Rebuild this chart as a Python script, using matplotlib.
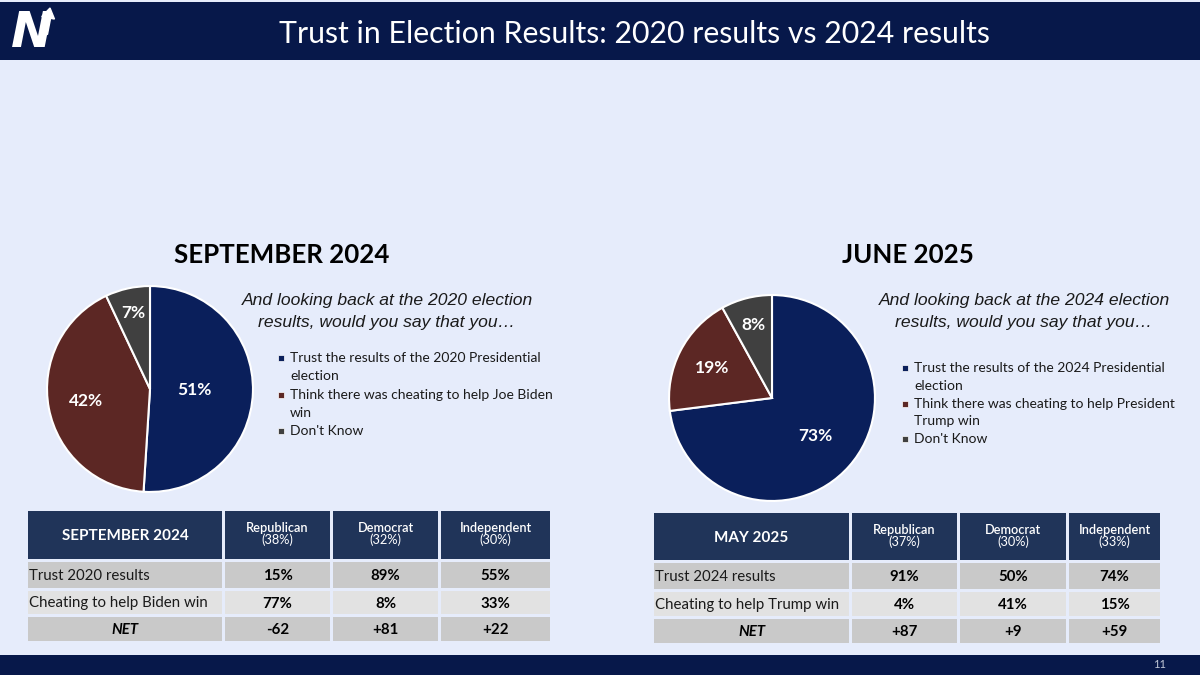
import matplotlib
matplotlib.use("Agg")
import numpy as np
import matplotlib.pyplot as plt
from matplotlib.patches import Rectangle, FancyArrow

# ---------------- data ----------------
title = "Trust in Election Results: 2020 results vs 2024 results"
page_no = "11"

left_title = "SEPTEMBER 2024"
left_question = ["And looking back at the 2020 election", "results, would you say that you\u2026"]
left_legend = ["Trust the results of the 2020 Presidential\nelection",
               "Think there was cheating to help Joe Biden\nwin",
               "Don't Know"]
left_values = [51, 42, 7]

right_title = "JUNE 2025"
right_question = ["And looking back at the 2024 election", "results, would you say that you\u2026"]
right_legend = ["Trust the results of the 2024 Presidential\nelection",
                "Think there was cheating to help President\nTrump win",
                "Don't Know"]
right_values = [73, 19, 8]

left_table_title = "SEPTEMBER 2024"
left_cols = ["Republican\n(38%)", "Democrat\n(32%)", "Independent\n(30%)"]
left_rows = ["Trust 2020 results", "Cheating to help Biden win", "NET"]
left_cells = [["15%", "89%", "55%"],
              ["77%", "8%", "33%"],
              ["-62", "+81", "+22"]]

right_table_title = "MAY 2025"
right_cols = ["Republican\n(37%)", "Democrat\n(30%)", "Independent\n(33%)"]
right_rows = ["Trust 2024 results", "Cheating to help Trump win", "NET"]
right_cells = [["91%", "50%", "74%"],
               ["4%", "41%", "15%"],
               ["+87", "+9", "+59"]]

# ---------------- style ----------------
BG = "#E6ECFB"
NAVY = "#07184A"
TBL_HEAD = "#203459"
PIE_COLORS = ["#0A1F5B", "#5C2724", "#404040"]
ROW_DARK = "#C9C9C9"
ROW_LIGHT = "#E2E2E2"
SANS = "Lato"

W, H = 1200, 675
fig = plt.figure(figsize=(12, 6.75), dpi=100)
fig.patch.set_facecolor(BG)
ax = fig.add_axes([0, 0, 1, 1])
ax.set_xlim(0, W)
ax.set_ylim(H, 0)
ax.axis("off")

# header / footer
ax.add_patch(Rectangle((0, 2), W, 58, facecolor=NAVY, edgecolor="none"))
ax.add_patch(Rectangle((0, 655), W, 20, facecolor=NAVY, edgecolor="none"))
ax.text(634, 34, title, color="white", fontsize=21.8, family=SANS,
        ha="center", va="center")
ax.text(1160, 665, page_no, color="#BFC6D6", fontsize=8, family=SANS,
        ha="center", va="center")
# logo
ax.text(32, 33, "N", color="white", fontsize=36, fontweight="bold",
        fontstyle="italic", family="DejaVu Sans", ha="center", va="center")
ax.add_patch(FancyArrow(45, 34, 5, -26, width=5, head_width=13, head_length=10,
                        color="white", length_includes_head=True))


def draw_pie(cx, cy, r, values, dists):
    pax = fig.add_axes([(cx - r) / W, 1 - (cy + r) / H, 2 * r / W, 2 * r / H])
    pax.set_facecolor("none")
    wedges, _ = pax.pie(values, colors=PIE_COLORS, startangle=90,
                        counterclock=False,
                        wedgeprops=dict(edgecolor="white", linewidth=1.5))
    for w, v, d in zip(wedges, values, dists):
        ang = np.deg2rad((w.theta1 + w.theta2) / 2)
        pax.text(d * np.cos(ang), d * np.sin(ang), f"{v}%", color="white",
                 fontsize=12.5, fontweight="bold", family=SANS,
                 ha="center", va="center")
    pax.set_xlim(-1.01, 1.01)
    pax.set_ylim(-1.01, 1.01)
    pax.set_aspect("equal")
    pax.axis("off")


def draw_section(title_x, head, question, qx, legend, lx, ly0, line_h):
    ax.text(title_x, 255, head, fontsize=18.6, fontweight="bold", family=SANS,
            ha="center", va="center", color="black")
    for i, q in enumerate(question):
        ax.text(qx, 300 + 22 * i, q, fontsize=12.6, fontstyle="italic",
                family="Liberation Sans", ha="center", va="center",
                color="#1A1A1A")
    y = ly0
    for lab, col in zip(legend, PIE_COLORS):
        ax.add_patch(Rectangle((lx - 3, y - 3), 6, 6, facecolor=col,
                               edgecolor="white", linewidth=0.5))
        lines = lab.split("\n")
        for j, ln in enumerate(lines):
            ax.text(lx + 9, y + j * line_h, ln, fontsize=10, family=SANS,
                    ha="left", va="center", color="#1A1A1A")
        y += line_h * len(lines)


def draw_table(x_edges, y_edges, ttitle, cols, rows, cells):
    gap = 3
    # header
    for c in range(4):
        x0, x1 = x_edges[c], x_edges[c + 1]
        ax.add_patch(Rectangle((x0, y_edges[0]), x1 - x0 - gap,
                               y_edges[1] - y_edges[0], facecolor=TBL_HEAD,
                               edgecolor="none"))
        xc = (x0 + x1 - gap) / 2
        yc = (y_edges[0] + y_edges[1]) / 2
        if c == 0:
            ax.text(xc, yc + 1, ttitle, color="white", fontsize=11,
                    fontweight="bold", family=SANS, ha="center", va="center")
        else:
            top, bottom = cols[c - 1].split("\n")
            ax.text(xc, yc - 7, top, color="white", fontsize=9.2,
                    fontweight="semibold", family=SANS, ha="center",
                    va="center")
            ax.text(xc, yc + 5, bottom, color="white", fontsize=9.2,
                    family=SANS, ha="center", va="center")
    # body
    for r in range(3):
        ya, yb = y_edges[r + 1] + gap, y_edges[r + 2]
        fc = ROW_LIGHT if r == 1 else ROW_DARK
        for c in range(4):
            x0, x1 = x_edges[c], x_edges[c + 1]
            ax.add_patch(Rectangle((x0, ya), x1 - x0 - gap, yb - ya,
                                   facecolor=fc, edgecolor="none"))
            yc = (ya + yb) / 2 + 1
            if c == 0:
                if r == 2:
                    ax.text((x0 + x1 - gap) / 2, yc, rows[r], fontsize=10.8,
                            fontweight="bold", fontstyle="italic", family=SANS,
                            ha="center", va="center", color="black")
                else:
                    ax.text(x0 + 1, yc, rows[r], fontsize=10.8, family=SANS,
                            ha="left", va="center", color="#1A1A1A")
            else:
                ax.text((x0 + x1 - gap) / 2, yc, cells[r][c - 1],
                        fontsize=10.8, fontweight="bold", family=SANS,
                        ha="center", va="center", color="black")


# left section
draw_pie(150, 389, 104, left_values, [0.43, 0.63, 0.76])
draw_section(282, left_title, left_question, 387, left_legend, 281, 358, 18.3)
draw_table([28, 225, 333, 441, 553], [511, 559, 588, 614, 641],
           left_table_title, left_cols, left_rows, left_cells)

# right section
draw_pie(772, 398, 104, right_values, [0.56, 0.65, 0.73])
draw_section(908, right_title, right_question, 1024, right_legend, 905, 368, 17.8)
draw_table([654, 852, 960, 1069, 1163], [513, 560, 589, 616, 643],
           right_table_title, right_cols, right_rows, right_cells)

fig.savefig("out.png", dpi=100, facecolor=BG)
